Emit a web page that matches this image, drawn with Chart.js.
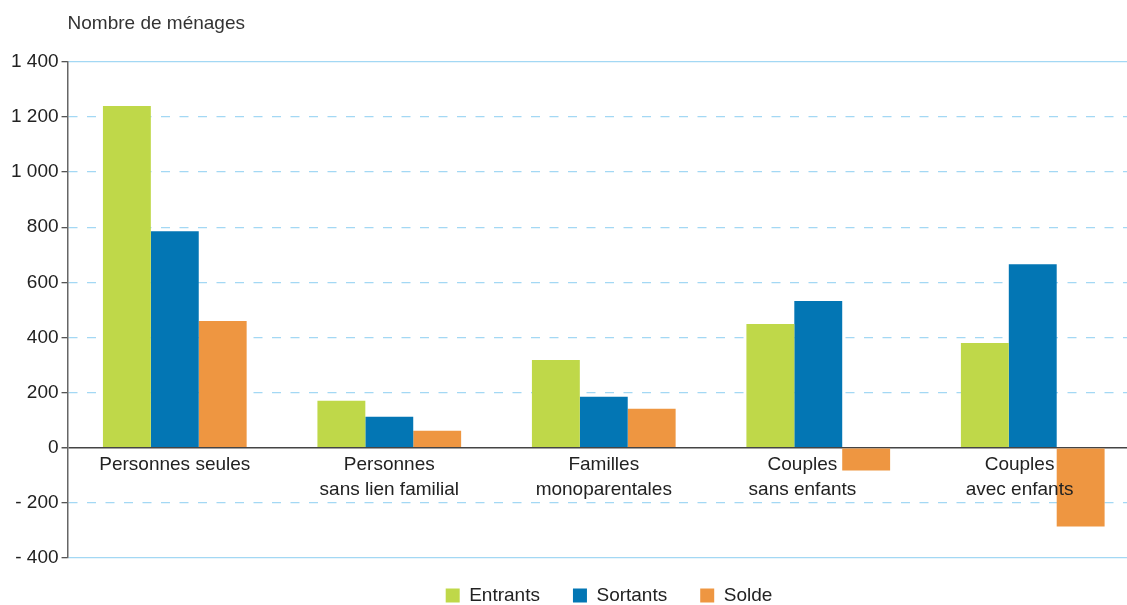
<!DOCTYPE html>
<html>
<head>
<meta charset="utf-8">
<script src="https://cdn.jsdelivr.net/npm/chart.js@4.4.1/dist/chart.umd.min.js"></script>
<style>
  html, body { margin: 0; padding: 0; overflow: hidden; background: #fff; }
  #wrap { width: 1140px; height: 605px; }
</style>
</head>
<body>
<div id="wrap"><canvas id="menagesChart"></canvas></div>
<script>
// Data
const categories = [
    ['Personnes seules'],
    ['Personnes', 'sans lien familial'],
    ['Familles', 'monoparentales'],
    ['Couples', 'sans enfants'],
    ['Couples', 'avec enfants']
];
const seriesNames = ['Entrants', 'Sortants', 'Solde'];
const entrants = [1240, 170, 318, 449, 380];
const sortants = [785, 112, 185, 532, 666];
const solde = [460, 62, 141, -83, -286];
const yMin = -400, yMax = 1400, yStep = 200;

const colors = ['#bfd849', '#0376b4', '#ee9641'];
const FONT = 'Liberation Sans, Arial, sans-serif';

// french style number: "1 400", "- 200"
function frNumber(v) {
    const s = Math.abs(v).toString().replace(/\B(?=(\d{3})+(?!\d))/g, ' ');
    return v < 0 ? '- ' + s : s;
}

// move the title over the plot area and nudge the legend into place
const placeBlocks = {
    id: 'placeBlocks',
    afterLayout(chart) {
        if (chart.titleBlock) chart.titleBlock.left = chart.chartArea.left;
        const lg = chart.legend;
        if (lg) {
            lg.left += 35; lg.right += 35;
            lg.top -= 5; lg.bottom -= 5;
        }
    }
};

const ctx = document.getElementById('menagesChart').getContext('2d');
const menagesChart = new Chart(ctx, {
    type: 'bar',
    data: {
        labels: categories,
        datasets: [
            { label: seriesNames[0], data: entrants, backgroundColor: colors[0] },
            { label: seriesNames[1], data: sortants, backgroundColor: colors[1] },
            { label: seriesNames[2], data: solde, backgroundColor: colors[2] }
        ]
    },
    options: {
        responsive: true,
        maintainAspectRatio: false,
        animation: false,
        datasets: {
            bar: { categoryPercentage: 0.67, barPercentage: 1.0 }
        },
        layout: { padding: { left: 8, right: 0, top: 0, bottom: -15 } },
        scales: {
            x: {
                position: { y: 0 },
                grid: { display: false, drawTicks: false },
                border: { display: false },
                ticks: {
                    z: 1,
                    color: '#222',
                    padding: 4,
                    maxRotation: 0,
                    font: { family: FONT, size: 19, lineHeight: 1.32 },
                    // labels of groups with a negative balance sit a bit to the left, clear of the bar
                    callback: function (value, index) {
                        const lines = categories[index];
                        if (solde[index] >= 0) return lines;
                        const pad = ' '.repeat(solde[index] < -200 ? 5 : 6);
                        return lines.map(l => l + pad);
                    }
                }
            },
            y: {
                min: yMin,
                max: yMax,
                grid: {
                    color: ctx => ctx.tick && ctx.tick.value === 0 ? '#444' : '#a3d8f4',
                    lineWidth: ctx => ctx.tick && ctx.tick.value === 0 ? 1.5 : 1.3,
                    tickColor: '#555',
                    tickLength: 6
                },
                border: {
                    display: true,
                    color: '#666',
                    width: 1.5,
                    dash: ctx => {
                        if (!ctx.tick) return [];
                        const v = ctx.tick.value;
                        return (v === yMin || v === yMax || v === 0) ? [] : [9, 9.5];
                    }
                },
                ticks: {
                    stepSize: yStep,
                    color: '#222',
                    padding: 3,
                    font: { family: FONT, size: 19 },
                    callback: value => frNumber(value)
                }
            }
        },
        plugins: {
            title: {
                display: true,
                text: 'Nombre de ménages',
                align: 'start',
                color: '#333',
                font: { family: FONT, size: 19, weight: 'normal' },
                padding: { top: 12, bottom: 27 }
            },
            legend: {
                position: 'bottom',
                labels: {
                    color: '#222',
                    boxWidth: 14,
                    boxHeight: 14,
                    padding: 33,
                    font: { family: FONT, size: 19 }
                }
            },
            tooltip: { enabled: false }
        }
    },
    plugins: [placeBlocks]
});
</script>
</body>
</html>
